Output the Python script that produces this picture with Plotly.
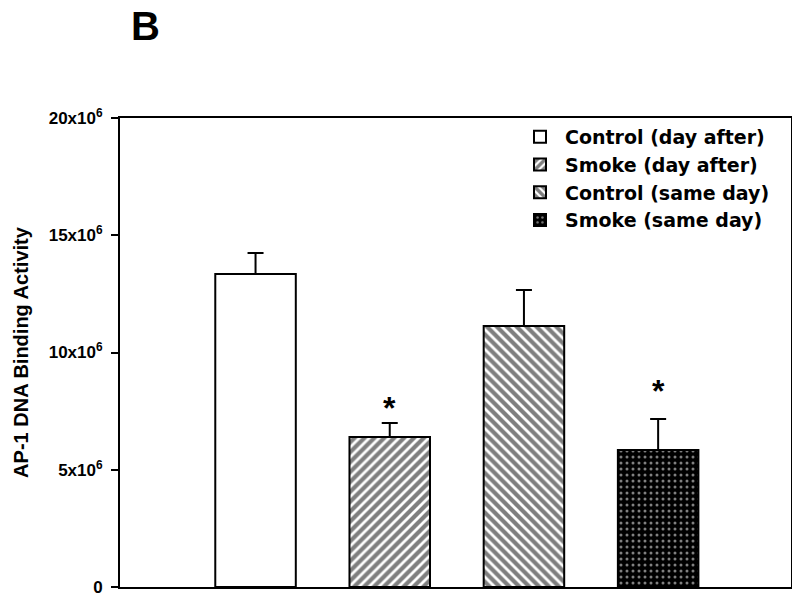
import plotly.graph_objects as go

categories = ["Control (day after)", "Smoke (day after)", "Control (same day)", "Smoke (same day)"]
positions = [1, 2, 3, 4]
values = [13.35e6, 6.40e6, 11.13e6, 5.84e6]
errors = [0.89e6, 0.59e6, 1.53e6, 1.32e6]
star_levels = [None, 7.65e6, None, 8.35e6]
tick_vals = [0, 5e6, 10e6, 15e6, 20e6]
tick_text = ["0", "5x10<sup>6</sup>", "10x10<sup>6</sup>", "15x10<sup>6</sup>", "20x10<sup>6</sup>"]

patterns = [
    dict(shape="", fgcolor="black", bgcolor="white"),
    dict(shape="/", fgcolor="black", bgcolor="white", size=7, solidity=0.6),
    dict(shape="\\", fgcolor="black", bgcolor="white", size=7, solidity=0.6),
    dict(shape=".", fgcolor="white", bgcolor="black", size=6, solidity=0.2),
]

FONT = "Liberation Sans, Arial, sans-serif"
WIDE = "DejaVu Sans, Liberation Sans, Arial, sans-serif"
fig = go.Figure()
for i in range(4):
    fig.add_trace(go.Bar(
        x=[positions[i]], y=[values[i]], name=categories[i], width=0.6,
        marker=dict(color="white" if i < 3 else "black",
                    line=dict(color="black", width=2), pattern=patterns[i]),
        error_y=dict(type="data", array=[errors[i]], arrayminus=[0], symmetric=False,
                     color="black", thickness=2, width=8),
    ))
    if star_levels[i] is not None:
        fig.add_annotation(x=positions[i], y=star_levels[i], text="*",
                           showarrow=False, yanchor="middle",
                           font=dict(size=32, family=FONT, color="black", weight="bold"))

fig.add_annotation(xref="paper", yref="paper", x=(145 - 120) / 671, y=1 + (118 - 26) / 469,
                   xanchor="center", yanchor="middle", text="B", showarrow=False,
                   font=dict(size=40, family=FONT, color="black", weight="bold"))

fig.update_layout(
    width=792, height=589, barmode="overlay",
    margin=dict(l=112, r=9, t=110, b=10, autoexpand=False),
    paper_bgcolor="white", plot_bgcolor="white",
    font=dict(family=FONT, color="black"),
    legend=dict(x=(515 - 120) / 671, y=1.0, xanchor="left", yanchor="top", bgcolor="rgba(0,0,0,0)",
                font=dict(size=19, family=WIDE, color="black", weight="bold"), itemwidth=40,
                tracegroupgap=0, traceorder="normal"),
    xaxis=dict(range=[-0.01, 4.99], showticklabels=False, ticks="", showgrid=False, automargin=False,
               zeroline=False, showline=True, linecolor="black", linewidth=2, mirror=True),
    yaxis=dict(range=[0, 20e6], tickvals=tick_vals, ticktext=tick_text, automargin=False,
               ticks="outside", ticklen=7, tickwidth=2, tickcolor="black", ticklabelstandoff=5,
               tickfont=dict(size=17, family=FONT, color="black", weight="bold"),
               showgrid=False, zeroline=False, showline=True, linecolor="black", linewidth=2, mirror=True,
               title=dict(text="AP-1 DNA Binding Activity",
                          font=dict(size=20, family=FONT, color="black", weight="bold"))),
)
fig.write_html("out.html")
